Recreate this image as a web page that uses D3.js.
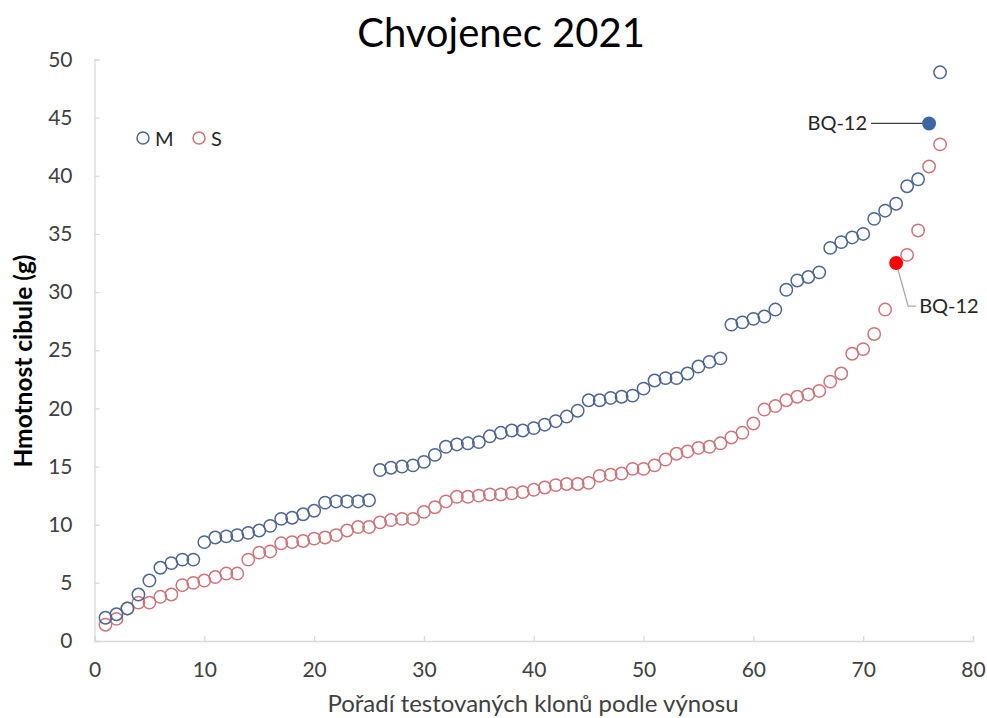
<!DOCTYPE html>
<html>
<head>
<meta charset="utf-8">
<script src="https://cdn.jsdelivr.net/npm/d3@7"></script>
<style>
  html, body { margin: 0; padding: 0; background: #fff; }
  svg { display: block; font-family: Lato, "Open Sans", sans-serif; }
</style>
</head>
<body>
<svg id="chart" width="987" height="718"></svg>
<script>
const title = "Chvojenec 2021";
const xTitle = "Pořadí testovaných klonů podle výnosu";
const yTitle = "Hmotnost cibule (g)";
const seriesNames = ["M", "S"];
const xTicks = [0, 10, 20, 30, 40, 50, 60, 70, 80];
const yTicks = [0, 5, 10, 15, 20, 25, 30, 35, 40, 45, 50];

const mValues = [2.0, 2.3, 2.8, 4.0, 5.2, 6.3, 6.7, 7.0, 7.0, 8.5,
  8.9, 9.0, 9.1, 9.3, 9.5, 9.9, 10.5, 10.6, 10.9, 11.2,
  11.9, 12.0, 12.0, 12.0, 12.1, 14.7, 14.9, 15.0, 15.1, 15.4,
  16.0, 16.7, 16.9, 17.0, 17.1, 17.6, 17.9, 18.1, 18.1, 18.3,
  18.6, 18.9, 19.3, 19.8, 20.7, 20.7, 20.9, 21.0, 21.1, 21.7,
  22.4, 22.6, 22.6, 23.0, 23.6, 24.0, 24.3, 27.2, 27.4, 27.7,
  27.9, 28.5, 30.2, 31.0, 31.3, 31.7, 33.8, 34.3, 34.7, 35.0,
  36.3, 37.0, 37.6, 39.1, 39.7, 44.5, 48.9];

const sValues = [1.4, 1.9, 2.8, 3.3, 3.3, 3.8, 4.0, 4.8, 5.0, 5.2,
  5.5, 5.8, 5.8, 7.0, 7.6, 7.7, 8.4, 8.5, 8.6, 8.8,
  8.9, 9.1, 9.5, 9.8, 9.8, 10.2, 10.4, 10.5, 10.5, 11.1,
  11.5, 12.0, 12.4, 12.4, 12.5, 12.6, 12.6, 12.7, 12.8, 13.0,
  13.2, 13.4, 13.5, 13.5, 13.6, 14.2, 14.3, 14.4, 14.8, 14.8,
  15.1, 15.6, 16.1, 16.3, 16.6, 16.7, 17.0, 17.5, 17.9, 18.7,
  19.9, 20.2, 20.7, 21.0, 21.2, 21.5, 22.3, 23.0, 24.7, 25.1,
  26.4, 28.5, 32.5, 33.2, 35.3, 40.8, 42.7];

const highlightLabel = "BQ-12";
const highlightM = 76;   // rank of BQ-12 in M
const highlightS = 73;   // rank of BQ-12 in S

const svg = d3.select("#chart");
const plot = { left: 94.5, right: 973, top: 59.5, bottom: 641 };

const x = d3.scaleLinear().domain([0, 80]).range([plot.left, plot.right]);
const y = d3.scaleLinear().domain([0, 50]).range([plot.bottom, plot.top]);

const axisColor = "#d9d9d9";
const textColor = "#404040";
const mColor = "#4d6591";
const sColor = "#cd7478";

// Title
svg.append("text").attr("x", 501).attr("y", 47)
  .attr("text-anchor", "middle").attr("font-size", 40).attr("fill", "#000")
  .text(title);

// Axes
const xAxis = d3.axisBottom(x).tickValues(xTicks).tickSize(-5).tickPadding(21).tickFormat(d3.format("d"));
const gx = svg.append("g").attr("transform", `translate(0,${plot.bottom})`).call(xAxis);
gx.select(".domain").attr("stroke", axisColor).attr("stroke-width", 1.3);
gx.selectAll(".tick line").attr("stroke", axisColor).attr("stroke-width", 1.3);
gx.selectAll(".tick text").attr("font-size", 21).attr("fill", textColor).attr("font-family", "Lato, sans-serif");

const yAxis = d3.axisLeft(y).tickValues(yTicks).tickSize(-5).tickPadding(22).tickFormat(d3.format("d"));
const gy = svg.append("g").attr("transform", `translate(${plot.left},0)`).call(yAxis);
gy.select(".domain").attr("stroke", axisColor).attr("stroke-width", 1.3);
gy.selectAll(".tick line").attr("stroke", axisColor).attr("stroke-width", 1.3);
gy.selectAll(".tick text").attr("font-size", 21).attr("fill", textColor).attr("font-family", "Lato, sans-serif");

// Axis titles
svg.append("text").attr("x", 533).attr("y", 712)
  .attr("text-anchor", "middle").attr("font-size", 24).attr("fill", textColor)
  .text(xTitle);
svg.append("text")
  .attr("transform", `translate(32,361) rotate(-90)`)
  .attr("text-anchor", "middle").attr("font-size", 24.5).attr("font-weight", "bold").attr("fill", "#000")
  .text(yTitle);

// Data
const mData = mValues.map((v, i) => ({ rank: i + 1, value: v }));
const sData = sValues.map((v, i) => ({ rank: i + 1, value: v }));

// Annotation lines (drawn under markers)
const mPt = mData[highlightM - 1];
const sPt = sData[highlightS - 1];
svg.append("line")
  .attr("x1", x(mPt.rank) - 58).attr("y1", y(mPt.value))
  .attr("x2", x(mPt.rank)).attr("y2", y(mPt.value))
  .attr("stroke", "#404040").attr("stroke-width", 1.2);
svg.append("text")
  .attr("x", x(mPt.rank) - 62).attr("y", y(mPt.value) + 7)
  .attr("text-anchor", "end").attr("font-size", 20).attr("fill", "#262626")
  .text(highlightLabel);

svg.append("polyline")
  .attr("points", [[x(sPt.rank), y(sPt.value)], [x(sPt.rank) + 12, y(sPt.value) + 43], [x(sPt.rank) + 20, y(sPt.value) + 43]].map(p => p.join(",")).join(" "))
  .attr("fill", "none").attr("stroke", "#a6a6a6").attr("stroke-width", 1.2);
svg.append("text")
  .attr("x", x(sPt.rank) + 23).attr("y", y(sPt.value) + 50)
  .attr("font-size", 20).attr("fill", "#262626")
  .text(highlightLabel);

// Markers
svg.append("g").selectAll("circle").data(sData).join("circle")
  .attr("cx", d => x(d.rank)).attr("cy", d => y(d.value)).attr("r", 6.2)
  .attr("fill", d => d.rank === highlightS ? "#ff0000" : "none")
  .attr("stroke", d => d.rank === highlightS ? "#ff0000" : sColor)
  .attr("stroke-width", 1.5);

svg.append("g").selectAll("circle").data(mData).join("circle")
  .attr("cx", d => x(d.rank)).attr("cy", d => y(d.value)).attr("r", 6.2)
  .attr("fill", d => d.rank === highlightM ? "#3d66a3" : "none")
  .attr("stroke", d => d.rank === highlightM ? "#3d66a3" : mColor)
  .attr("stroke-width", 1.5);

// Legend
const legend = svg.append("g");
const legendItems = [
  { name: seriesNames[0], color: mColor, cx: 143 },
  { name: seriesNames[1], color: sColor, cx: 199 }
];
legendItems.forEach(it => {
  legend.append("circle").attr("cx", it.cx).attr("cy", 138).attr("r", 6)
    .attr("fill", "none").attr("stroke", it.color).attr("stroke-width", 1.5);
  legend.append("text").attr("x", it.cx + 12).attr("y", 146)
    .attr("font-size", 20).attr("fill", "#262626").text(it.name);
});
</script>
</body>
</html>
